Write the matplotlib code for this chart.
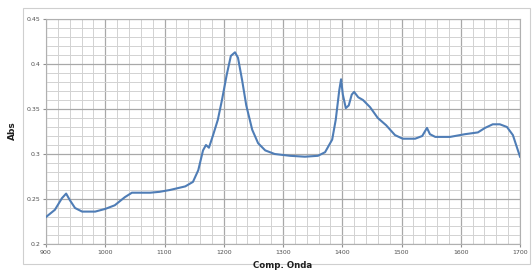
import matplotlib
matplotlib.use("Agg")
import matplotlib.pyplot as plt
from matplotlib.patches import Rectangle
from matplotlib.ticker import MultipleLocator

wavenumber = [900, 915, 927, 934, 940, 949, 961, 983, 1000, 1016, 1033, 1045, 1059, 1076,
              1092, 1109, 1135, 1148, 1157, 1165, 1170, 1175, 1182, 1190, 1197, 1205, 1212,
              1219, 1224, 1231, 1238, 1248, 1258, 1270, 1286, 1312, 1337, 1359, 1371, 1383,
              1389, 1395, 1398, 1401, 1406, 1411, 1416, 1420, 1427, 1435, 1447, 1460, 1474,
              1489, 1502, 1523, 1535, 1543, 1548, 1557, 1582, 1607, 1629, 1641, 1654, 1666,
              1678, 1688, 1700]
absorbance = [0.230, 0.238, 0.251, 0.256, 0.249, 0.240, 0.236, 0.236, 0.239, 0.243, 0.252,
              0.257, 0.257, 0.257, 0.258, 0.260, 0.264, 0.269, 0.282, 0.304, 0.310, 0.307,
              0.321, 0.338, 0.360, 0.388, 0.409, 0.413, 0.407, 0.382, 0.354, 0.327, 0.312,
              0.304, 0.300, 0.298, 0.297, 0.298, 0.302, 0.316, 0.338, 0.371, 0.383, 0.366,
              0.351, 0.354, 0.366, 0.369, 0.363, 0.360, 0.352, 0.340, 0.332, 0.321, 0.317,
              0.317, 0.320, 0.329, 0.322, 0.319, 0.319, 0.322, 0.324, 0.329, 0.333, 0.333,
              0.330, 0.321, 0.297]

x_ticks = [900, 1000, 1100, 1200, 1300, 1400, 1500, 1600, 1700]
y_ticks = [0.2, 0.25, 0.3, 0.35, 0.4, 0.45]
y_tick_labels = ["0.2", "0.25", "0.3", "0.35", "0.4", "0.45"]

W, H = 532, 271
fig = plt.figure(figsize=(W / 100, H / 100), dpi=100)
fig.patch.set_facecolor("white")

# outer chart frame
fig.patches.append(Rectangle((23 / W, 1 - 264 / H), (530 - 23) / W, (264 - 8) / H,
                             transform=fig.transFigure, fill=False,
                             edgecolor="#cfcfcf", linewidth=0.8))

ax = fig.add_axes([46 / W, 1 - 244 / H, (520 - 46) / W, (244 - 19) / H])
ax.plot(wavenumber, absorbance, color="#4f7db6", linewidth=1.5, zorder=3)

ax.set_xlim(900, 1700)
ax.set_ylim(0.2, 0.45)
ax.set_xticks(x_ticks)
ax.set_xticklabels([str(v) for v in x_ticks])
ax.set_yticks(y_ticks)
ax.set_yticklabels(y_tick_labels)
ax.xaxis.set_minor_locator(MultipleLocator(20))
ax.yaxis.set_minor_locator(MultipleLocator(0.01))

ax.grid(which="major", color="#a8a8a8", linewidth=0.9)
ax.grid(which="minor", color="#d2d2d2", linewidth=0.7)
ax.set_axisbelow(True)

for s in ax.spines.values():
    s.set_color("#b0b0b0")
    s.set_linewidth(0.8)

ax.tick_params(which="major", labelsize=4.5, labelcolor="#505050", length=2,
               color="#909090", pad=2)
ax.tick_params(which="minor", length=0)

fig.text(12 / W, 1 - 131 / H, "Abs", rotation=90, ha="center", va="center",
         fontsize=6.5, fontweight="bold", color="#202020")
fig.text(283 / W, 1 - 265.5 / H, "Comp. Onda", ha="center", va="center",
         fontsize=6.2, fontweight="bold", color="#202020")

fig.savefig("out.png", dpi=100)
